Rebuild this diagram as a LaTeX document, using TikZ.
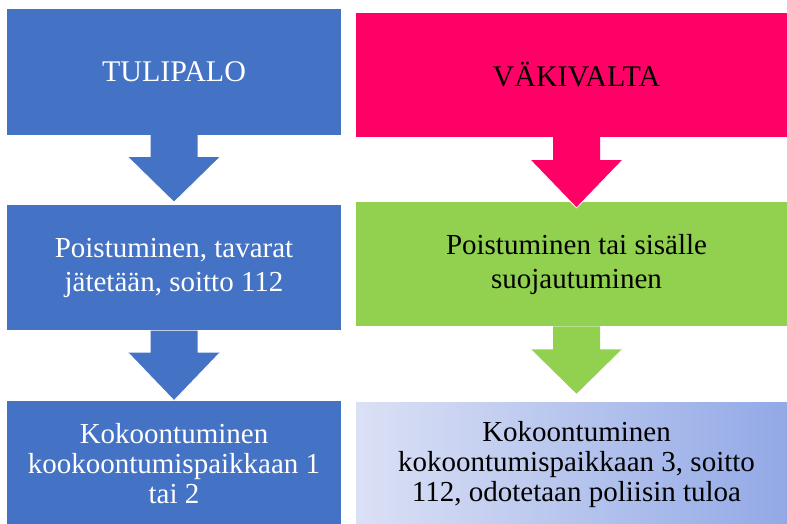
\documentclass[tikz,border=0pt]{standalone}
\usepackage{fontspec}
\setmainfont{Liberation Serif}
\usetikzlibrary{positioning,calc}
\definecolor{palosin}{RGB}{68,114,196}
\definecolor{vakpun}{RGB}{255,0,102}
\definecolor{suojvih}{RGB}{146,208,80}
\definecolor{kokovaal}{RGB}{219,225,245}
\definecolor{kokotumm}{RGB}{145,168,230}
\tikzset{
  lohko/.style={rectangle,inner sep=0pt,align=center,
    font=\fontsize{29}{30}\selectfont},
  vasen/.style={lohko,fill=palosin,text=white,minimum width=334pt},
  oikea/.style={lohko,text=black,minimum width=441pt},
  otsikko/.style={font=\fontsize{30}{32}\selectfont},
  valissa/.style={font=\fontsize{29}{34}\selectfont},
}
% paksu alaspain osoittava nuoli laatikosta toiseen
\newcommand\alasnuoli[5]{%
  \fill[#3] ($(#1.south)+(-23.5,0)$) -- ($(#1.south)+(23.5,0)$)
    -- ($(#1.south)+(23.5,#4)$) -- ($(#1.south)+(46,#4)$)
    -- ($(#2.north)+(0,#5)$) -- ($(#1.south)+(-46,#4)$)
    -- ($(#1.south)+(-23.5,#4)$) -- cycle;
  \draw[white,line width=0.8pt] ($(#1.south)+(46,#4)$)
    -- ($(#2.north)+(0,#5)$) -- ($(#1.south)+(-46,#4)$);}
\begin{document}
\begin{tikzpicture}[x=1pt,y=-1pt]
  \useasboundingbox (0,0) rectangle (787,523);
  % tulipalo
  \node[vasen,otsikko,minimum height=126pt] (tuli) at (174,72) {TULIPALO};
  \node[vasen,valissa,minimum height=125pt,below=70pt of tuli] (tpois)
    {Poistuminen, tavarat\\jätetään, soitto 112};
  \node[vasen,minimum height=125pt,below=70pt of tpois] (tkoko)
    {Kokoontuminen\\kookoontumispaikkaan 1\\tai 2};
  % väkivalta
  \node[oikea,otsikko,fill=vakpun,minimum height=124pt] (vaki) at (576.5,75) {VÄKIVALTA};
  \node[oikea,valissa,fill=suojvih,minimum height=124pt,below=64.7pt of vaki] (vsuoja)
    {Poistuminen tai sisälle\\suojautuminen};
  \node[oikea,minimum height=124pt,below=75.7pt of vsuoja,
    left color=kokovaal,right color=kokotumm] (vkoko)
    {Kokoontuminen\\kokoontumispaikkaan 3, soitto\\112, odotetaan poliisin tuloa};
  % nuolet
  \alasnuoli{tuli}{tpois}{palosin}{22}{-3}
  \alasnuoli{tpois}{tkoko}{palosin}{22}{0}
  \alasnuoli{vaki}{vsuoja}{vakpun}{23}{6}
  \alasnuoli{vsuoja}{vkoko}{suojvih}{23}{-7.5}
\end{tikzpicture}
\end{document}
